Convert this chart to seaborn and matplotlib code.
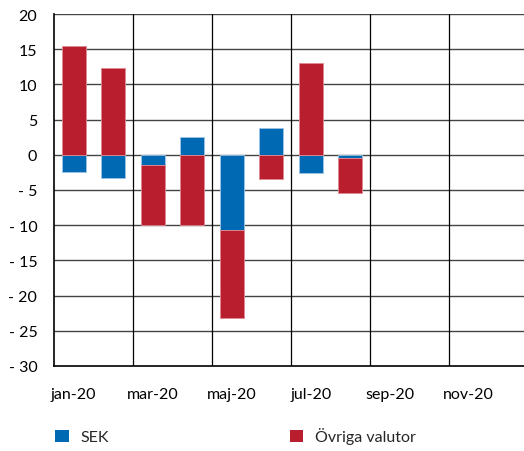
import numpy as np
import pandas as pd
import matplotlib
matplotlib.use("Agg")
import matplotlib.pyplot as plt
from matplotlib.patches import Patch
from matplotlib.ticker import FuncFormatter, MultipleLocator
import seaborn as sns

months = ["jan-20", "feb-20", "mar-20", "apr-20", "maj-20", "jun-20",
          "jul-20", "aug-20", "sep-20", "okt-20", "nov-20", "dec-20"]
sek = [-2.5, -3.3, -1.4, 2.5, -10.7, 3.75, -2.6, -0.45,
       np.nan, np.nan, np.nan, np.nan]
ovriga = [15.45, 12.4, -8.6, -10.0, -12.5, -3.4, 13.0, -4.95,
          np.nan, np.nan, np.nan, np.nan]
series_names = ["SEK", "Övriga valutor"]
colors = ["#0069B4", "#B81E2D"]

sns.set_theme(style="white")
plt.rcParams["font.family"] = ["Lato", "DejaVu Sans"]

fig = plt.figure(figsize=(5.24, 4.52), dpi=100)
ax = fig.add_axes([54 / 524, 1 - 367 / 452, (528 - 54) / 524, (367 - 15) / 452])

df = pd.DataFrame({"month": months, "SEK": sek, "Ovriga": ovriga})
sek_arr = np.array(sek, dtype=float)
ov_arr = np.array(ovriga, dtype=float)
valid = ~np.isnan(ov_arr)
bottom = np.where(np.sign(sek_arr) == np.sign(ov_arr), sek_arr, 0.0)

sns.barplot(data=df, x="month", y="SEK", color=colors[0], width=0.62,
            ax=ax, saturation=1, edgecolor="#9fc4e6", linewidth=0.6, zorder=3)
x = np.arange(len(months))
ax.bar(x[valid], ov_arr[valid], bottom=bottom[valid], width=0.62,
       color=colors[1], edgecolor="#e08a92", linewidth=0.6, zorder=3)

ax.set_xlim(-0.5, len(months) - 0.5)
ax.set_ylim(-30, 20)
ax.yaxis.set_major_locator(MultipleLocator(5))
ax.yaxis.set_major_formatter(FuncFormatter(
    lambda v, p: f"- {abs(int(round(v)))}" if v < 0 else f"{int(round(v))}"))
ax.set_xticks(x[::2])
ax.set_xticklabels(months[::2])
ax.set_xlabel("")
ax.set_ylabel("")
ax.tick_params(axis="both", length=0, labelsize=11.5, colors="black")
ax.tick_params(axis="x", pad=15)
ax.tick_params(axis="y", pad=12)

for yv in range(-25, 21, 5):
    ax.axhline(yv, color="#444444", lw=1.0, zorder=1)
for xv in np.arange(1.5, len(months), 2):
    ax.axvline(xv, color="black", lw=0.9, zorder=1)

for s in ["top", "right"]:
    ax.spines[s].set_visible(False)
for s in ["left", "bottom"]:
    ax.spines[s].set_color("black")
    ax.spines[s].set_linewidth(1.2)
    ax.spines[s].set_zorder(4)

handles = [Patch(facecolor=c, edgecolor="none") for c in colors]
fig.legend(handles, series_names, loc="center left",
           bbox_to_anchor=(55 / 524, 1 - 437 / 452), ncol=2, frameon=False,
           fontsize=11.5, handlelength=0.85, handleheight=0.85,
           handletextpad=0.75, columnspacing=11.3, borderpad=0,
           borderaxespad=0)

fig.savefig("out.png", dpi=100)
